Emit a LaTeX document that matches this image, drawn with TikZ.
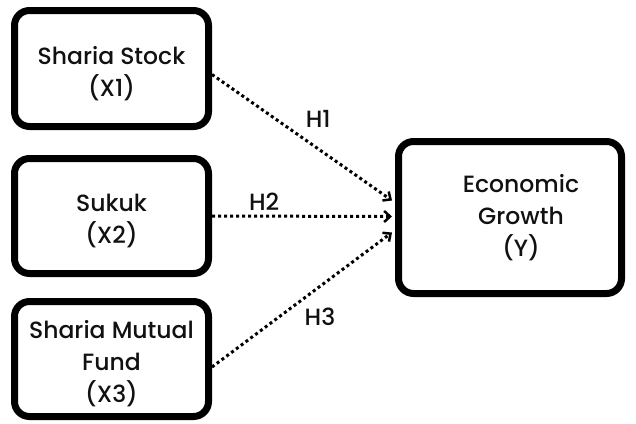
\documentclass[tikz,border=0pt]{standalone}
\usepackage{fontspec}
\setmainfont{Poppins Medium}
\usepackage{tikz}
\usetikzlibrary{arrows.meta, positioning, calc}
\definecolor{colInk}{HTML}{111111}
\newcommand{\topgap}{\rule{0pt}{28pt}}
\newcommand{\rpush}{\hspace*{22pt}}
\tikzset{
  varbox/.style={
    draw=black, rounded corners=15pt, line width=7pt,
    minimum width=194pt, minimum height=115pt,
    align=center, inner sep=0pt, text=colInk,
    font=\fontsize{23.5}{32}\selectfont
  },
  depbox/.style={varbox, minimum width=223pt, minimum height=152pt},
  hyparr/.style={
    -{Straight Barb[length=6pt,width=11pt,line width=2.5pt]},
    line width=3pt, draw=black, dash pattern=on 3pt off 3pt
  },
  hyplab/.style={inner sep=0pt, text=colInk, font=\fontsize{23.5}{25}\selectfont}
}
\begin{document}
\begin{tikzpicture}[x=1pt, y=-1pt, node distance=25pt]
  \useasboundingbox (0,0) rectangle (636,423);
  \node[varbox, minimum height=116pt] (x1) at (111.5,68.5) {\topgap Sharia Stock\\(X1)};
  \node[varbox, below=25pt of x1] (x2) {\topgap Sukuk\\(X2)};
  \node[varbox, below=21pt of x2] (x3) {\topgap Sharia Mutual\\Fund\\(X3)};
  \node[depbox] (y) at (510,217.5) {\rpush Economic\\\rpush Growth\\\rpush (Y)};
  % free ends just left of the outcome box
  \coordinate (t1) at ($(y.west)+(-3,-17)$);
  \coordinate (t2) at ($(y.west)+(-3,-1)$);
  \coordinate (t3) at ($(y.west)+(-3,15)$);
  \draw[hyparr] ([yshift=-6pt]x1.east) -- node[hyplab, pos=.59, yshift=30pt] (h1) {H1} (t1);
  \draw[hyparr] (x2.east) -- node[hyplab, pos=.29, yshift=14pt] (h2) {H2} (t2);
  \draw[hyparr] ([yshift=-8pt]x3.east) -- node[hyplab, pos=.6, yshift=-30pt] (h3) {H3} (t3);
\end{tikzpicture}
\end{document}
